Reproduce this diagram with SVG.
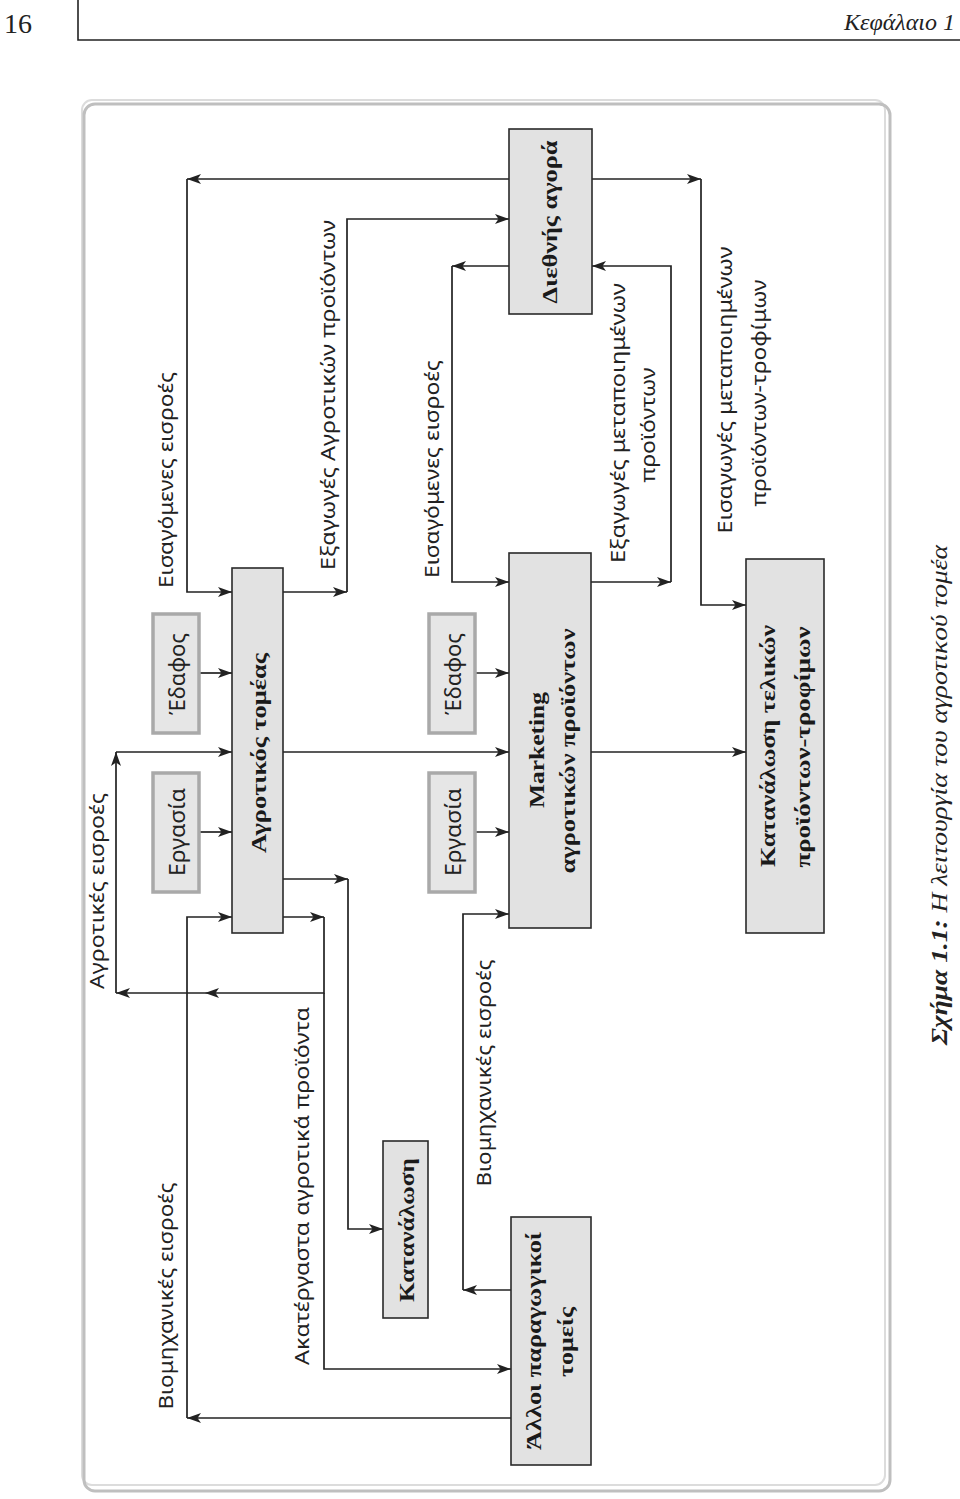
<svg xmlns="http://www.w3.org/2000/svg" width="960" height="1499" viewBox="0 0 960 1499">
<style>
.lbl{font-family:"Noto Sans","Open Sans",sans-serif;font-size:20px;fill:#222;text-anchor:middle;dominant-baseline:central}
.bx{font-family:"Liberation Serif",serif;font-weight:bold;font-size:22px;fill:#1a1a1a;text-anchor:middle;dominant-baseline:central}
.sm{font-family:"Noto Sans","Open Sans",sans-serif;font-size:22px;fill:#222;text-anchor:middle;dominant-baseline:central}
.box{fill:#e2e2e2;stroke:#2a2a2a;stroke-width:1.6}
.ibox{fill:#e6e6e6;stroke:#a9a9a9;stroke-width:3.5}
.ln{fill:none;stroke:#222;stroke-width:1.7}
.hdr{font-family:"Liberation Serif",serif;fill:#222}
</style>
<defs>
<marker id="ah" viewBox="0 0 14 10" refX="14" refY="5" markerWidth="14" markerHeight="10" orient="auto" markerUnits="userSpaceOnUse">
<path d="M0,0 L14,5 L0,10 L3.5,5 Z" fill="#222"/>
</marker>
</defs>
<rect width="960" height="1499" fill="#fff"/>
<g id="header">
<text class="hdr" x="4" y="33" font-size="28">16</text>
<path d="M78,0 V40 H960" fill="none" stroke="#222" stroke-width="1.6"/>
<text class="hdr" x="955" y="30" font-size="24" font-style="italic" text-anchor="end">Κεφάλαιο 1</text>
</g>
<g id="frame">
<rect x="82" y="100" width="803" height="1385" rx="10" fill="none" stroke="#dcdcdc" stroke-width="2"/>
<rect x="84" y="104" width="806" height="1387" rx="11" fill="none" stroke="#bfbfbf" stroke-width="3"/>
</g>
<g id="connectors">
<path class="ln" marker-end="url(#ah)" d="M510,179 H187"/>
<path class="ln" marker-end="url(#ah)" d="M187,179 V592 H232"/>
<path class="ln" marker-end="url(#ah)" d="M592,179 H701"/>
<path class="ln" marker-end="url(#ah)" d="M701,179 V605 H746"/>
<path class="ln" marker-end="url(#ah)" d="M283,592 H347"/>
<path class="ln" marker-end="url(#ah)" d="M347,592 V219 H509"/>
<path class="ln" marker-end="url(#ah)" d="M200,673 H232"/>
<path class="ln" marker-end="url(#ah)" d="M200,832 H232"/>
<path class="ln" marker-end="url(#ah)" d="M283,917 H324"/>
<path class="ln" marker-end="url(#ah)" d="M324,917 V993 H205"/>
<path class="ln" marker-end="url(#ah)" d="M205,993 H116"/>
<path class="ln" marker-end="url(#ah)" d="M116,993 V752"/>
<path class="ln" marker-end="url(#ah)" d="M116,752 H232"/>
<path class="ln" marker-end="url(#ah)" d="M324,993 V1369 H511"/>
<path class="ln" marker-end="url(#ah)" d="M283,752 H509"/>
<path class="ln" marker-end="url(#ah)" d="M283,879 H348"/>
<path class="ln" marker-end="url(#ah)" d="M348,879 V1229 H383"/>
<path class="ln" marker-end="url(#ah)" d="M511,1418 H187"/>
<path class="ln" marker-end="url(#ah)" d="M187,1418 V917 H232"/>
<path class="ln" marker-end="url(#ah)" d="M509,266 H452"/>
<path class="ln" marker-end="url(#ah)" d="M452,266 V582 H509"/>
<path class="ln" marker-end="url(#ah)" d="M475,673 H509"/>
<path class="ln" marker-end="url(#ah)" d="M475,832 H509"/>
<path class="ln" marker-end="url(#ah)" d="M511,1290 H463"/>
<path class="ln" marker-end="url(#ah)" d="M463,1290 V914 H509"/>
<path class="ln" marker-end="url(#ah)" d="M591,582 H671"/>
<path class="ln" marker-end="url(#ah)" d="M671,582 V266 H592"/>
<path class="ln" marker-end="url(#ah)" d="M591,752 H746"/>
</g>
<g id="flow-labels">
<text class="lbl" transform="translate(165,480) rotate(-90)" textLength="216" lengthAdjust="spacingAndGlyphs">Εισαγόμενες εισροές</text>
<text class="lbl" transform="translate(327,395) rotate(-90)" textLength="350" lengthAdjust="spacingAndGlyphs">Εξαγωγές Αγροτικών προϊόντων</text>
<text class="lbl" transform="translate(431,469) rotate(-90)" textLength="218" lengthAdjust="spacingAndGlyphs">Εισαγόμενες εισροές</text>
<text class="lbl" transform="translate(96,891) rotate(-90)" textLength="196" lengthAdjust="spacingAndGlyphs">Αγροτικές εισροές</text>
<text class="lbl" transform="translate(165,1296) rotate(-90)" textLength="227" lengthAdjust="spacingAndGlyphs">Βιομηχανικές εισροές</text>
<text class="lbl" transform="translate(301,1186) rotate(-90)" textLength="358" lengthAdjust="spacingAndGlyphs">Ακατέργαστα αγροτικά προϊόντα</text>
<text class="lbl" transform="translate(483,1073) rotate(-90)" textLength="227" lengthAdjust="spacingAndGlyphs">Βιομηχανικές εισροές</text>
<text class="lbl" transform="translate(617,423) rotate(-90)" textLength="280" lengthAdjust="spacingAndGlyphs">Εξαγωγές μεταποιημένων</text>
<text class="lbl" transform="translate(647,425) rotate(-90)" textLength="115" lengthAdjust="spacingAndGlyphs">προϊόντων</text>
<text class="lbl" transform="translate(724,390) rotate(-90)" textLength="287" lengthAdjust="spacingAndGlyphs">Εισαγωγές μεταποιημένων</text>
<text class="lbl" transform="translate(758,393) rotate(-90)" textLength="227" lengthAdjust="spacingAndGlyphs">προϊόντων-τροφίμων</text>
</g>
<g id="edafos1">
<rect class="ibox" x="153" y="614" width="46" height="119"/>
<text class="sm" transform="translate(176,674) rotate(-90)" textLength="82" lengthAdjust="spacingAndGlyphs">Έδαφος</text>
</g>
<g id="ergasia1">
<rect class="ibox" x="153" y="773" width="46" height="119"/>
<text class="sm" transform="translate(176,832) rotate(-90)" textLength="88" lengthAdjust="spacingAndGlyphs">Εργασία</text>
</g>
<g id="edafos2">
<rect class="ibox" x="429" y="614" width="46" height="119"/>
<text class="sm" transform="translate(452,674) rotate(-90)" textLength="82" lengthAdjust="spacingAndGlyphs">Έδαφος</text>
</g>
<g id="ergasia2">
<rect class="ibox" x="429" y="773" width="46" height="119"/>
<text class="sm" transform="translate(452,832) rotate(-90)" textLength="88" lengthAdjust="spacingAndGlyphs">Εργασία</text>
</g>
<g id="agrotikos">
<rect class="box" x="232" y="568" width="51" height="365"/>
<text class="bx" transform="translate(258,753) rotate(-90)" textLength="200" lengthAdjust="spacingAndGlyphs">Αγροτικός τομέας</text>
</g>
<g id="diethnis">
<rect class="box" x="509" y="129" width="83" height="185"/>
<text class="bx" transform="translate(549,222) rotate(-90)" textLength="163" lengthAdjust="spacingAndGlyphs">Διεθνής αγορά</text>
</g>
<g id="marketing">
<rect class="box" x="509" y="553" width="82" height="375"/>
<text class="bx" transform="translate(536,750) rotate(-90)" textLength="116" lengthAdjust="spacingAndGlyphs">Marketing</text>
<text class="bx" transform="translate(567,751) rotate(-90)" textLength="245" lengthAdjust="spacingAndGlyphs">αγροτικών προϊόντων</text>
</g>
<g id="katanalosi-telikon">
<rect class="box" x="746" y="559" width="78" height="374"/>
<text class="bx" transform="translate(767,746) rotate(-90)" textLength="242" lengthAdjust="spacingAndGlyphs">Κατανάλωση τελικών</text>
<text class="bx" transform="translate(802,747) rotate(-90)" textLength="241" lengthAdjust="spacingAndGlyphs">προϊόντων-τροφίμων</text>
</g>
<g id="katanalosi">
<rect class="box" x="383" y="1141" width="45" height="177"/>
<text class="bx" transform="translate(406,1230) rotate(-90)" textLength="144" lengthAdjust="spacingAndGlyphs">Κατανάλωση</text>
</g>
<g id="alloi">
<rect class="box" x="511" y="1217" width="80" height="248"/>
<text class="bx" transform="translate(533,1341) rotate(-90)" textLength="218" lengthAdjust="spacingAndGlyphs">Άλλοι παραγωγικοί</text>
<text class="bx" transform="translate(565,1342) rotate(-90)" textLength="70" lengthAdjust="spacingAndGlyphs">τομείς</text>
</g>
<g id="caption">
<text transform="translate(939,795) rotate(-90)" font-family="Liberation Serif, serif" font-size="24" font-style="italic" fill="#222" text-anchor="middle" dominant-baseline="central" textLength="500" lengthAdjust="spacingAndGlyphs"><tspan font-weight="bold">Σχήμα 1.1:</tspan> Η λειτουργία του αγροτικού τομέα</text>
</g>
</svg>
